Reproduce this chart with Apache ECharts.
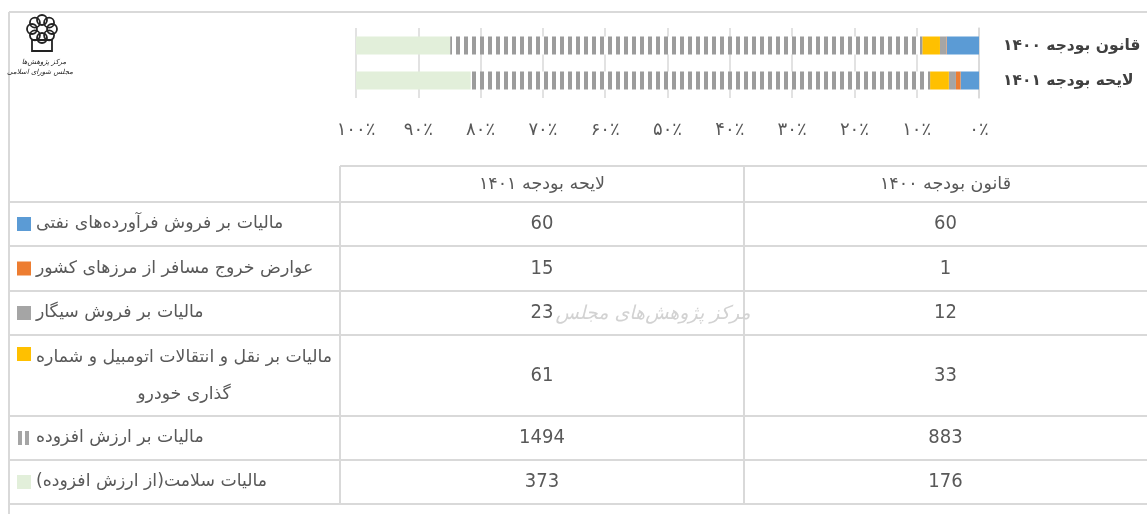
<!DOCTYPE html>
<html>
<head>
<meta charset="utf-8">
<title>Tax revenue shares</title>
<script src="https://cdn.jsdelivr.net/npm/echarts@6/dist/echarts.min.js"></script>
<style>
  html, body { margin: 0; padding: 0; background: #fff; }
  #chart { width: 1147px; height: 514px; }
</style>
</head>
<body>
<div id="chart"></div>
<script>
// categories (top to bottom)
const categories = ["قانون بودجه ۱۴۰۰", "لایحه بودجه ۱۴۰۱"];
// series names, in stack order (from 0% outward)
const seriesNames = [
  "مالیات بر فروش فرآورده‌های نفتی",
  "عوارض خروج مسافر از مرزهای کشور",
  "مالیات بر فروش سیگار",
  "مالیات بر نقل و انتقالات اتومبیل و شماره گذاری خودرو",
  "مالیات بر ارزش افزوده",
  "مالیات سلامت(از ارزش افزوده)",
];
const law1400 = [60, 1, 12, 33, 883, 176];
const bill1401 = [60, 15, 23, 61, 1494, 373];
const tableHeaders = ["لایحه بودجه ۱۴۰۱", "قانون بودجه ۱۴۰۰"];
const xTicks = ["۰٪", "۱۰٪", "۲۰٪", "۳۰٪", "۴۰٪", "۵۰٪", "۶۰٪", "۷۰٪", "۸۰٪", "۹۰٪", "۱۰۰٪"];

const colors = ["#5b9bd5", "#ed7d31", "#a5a5a5", "#ffc000", "stripes", "#e2efda"];
const FA = "'DejaVu Sans', sans-serif";
const NUM = "'Liberation Sans Narrow', 'DejaVu Sans Condensed', 'Open Sans', sans-serif";
const LINE = "#d9d9d9";
const TXT = "#595959";

// vertical stripe pattern used for the VAT series
function stripePattern() {
  const c = document.createElement("canvas");
  c.width = 8;
  c.height = 20;
  const ctx = c.getContext("2d");
  ctx.fillStyle = "#fff";
  ctx.fillRect(0, 0, 8, 20);
  ctx.fillStyle = "#9c9c9c";
  ctx.fillRect(0, 0, 4, 20);
  return { image: c, repeat: "repeat" };
}

const sum = (a) => a.reduce((s, v) => s + v, 0);
const tot1400 = sum(law1400);
const tot1401 = sum(bill1401);

const chart = echarts.init(document.getElementById("chart"));

// table layout
const rowEdges = [166, 202, 246, 291, 335, 416, 460, 504];
const colEdges = [9, 340, 744, 1147];

function tableGraphics() {
  const g = [];
  const line = (x1, y1, x2, y2) =>
    g.push({
      type: "line",
      silent: true,
      shape: { x1, y1, x2, y2 },
      style: { stroke: LINE, lineWidth: 2 },
    });
  // outer frame
  line(9, 12, 1147, 12);
  line(9, 12, 9, 514);
  // table grid
  line(colEdges[1], rowEdges[0], 1147, rowEdges[0]);
  for (let i = 1; i < rowEdges.length; i++) line(9, rowEdges[i], 1147, rowEdges[i]);
  line(colEdges[1], rowEdges[0], colEdges[1], rowEdges[rowEdges.length - 1]);
  line(colEdges[2], rowEdges[0], colEdges[2], rowEdges[rowEdges.length - 1]);

  const cx1 = (colEdges[1] + colEdges[2]) / 2;
  const cx2 = (colEdges[2] + colEdges[3]) / 2;
  const text = (x, y, t, size, font, align) =>
    g.push({
      type: "text",
      silent: true,
      x, y,
      style: {
        text: t,
        fill: TXT,
        font: size + "px " + font,
        align: align || "center",
        verticalAlign: "middle",
      },
    });

  // header
  const hy = (rowEdges[0] + rowEdges[1]) / 2;
  text(cx1, hy, tableHeaders[0], 17.5, FA);
  text(cx2, hy, tableHeaders[1], 17.5, FA);

  seriesNames.forEach((name, i) => {
    const top = rowEdges[i + 1];
    const bot = rowEdges[i + 2];
    const my = (top + bot) / 2;
    // values
    text(cx1, my, String(bill1401[i]), 20, NUM);
    text(cx2, my, String(law1400[i]), 20, NUM);
    // legend key
    const ky = i === 3 ? top + 12 : my - 7;
    if (colors[i] === "stripes") {
      [18, 25].forEach((x) =>
        g.push({
          type: "rect",
          silent: true,
          shape: { x, y: ky, width: 4, height: 14 },
          style: { fill: "#a5a5a5" },
        })
      );
    } else {
      g.push({
        type: "rect",
        silent: true,
        shape: { x: 17, y: ky, width: 14, height: 14 },
        style: { fill: colors[i] },
      });
    }
    // legend label (row 4 wraps)
    if (i === 3) {
      text(36, top + 23, "مالیات بر نقل و انتقالات اتومبیل و شماره", 17.3, FA, "left");
      text(184, top + 60, "گذاری خودرو", 17.3, FA, "center");
    } else {
      text(36, my, name, 17.3, FA, "left");
    }
  });

  // watermark
  g.push({
    type: "text",
    silent: true,
    x: 653,
    y: 314,
    style: {
      text: "مرکز پژوهش‌های مجلس",
      fill: "#d2d2d2",
      font: "italic 19px " + FA,
      align: "center",
      verticalAlign: "middle",
    },
  });

  // logo (rough)
  for (let k = 0; k < 8; k++) {
    const a = (k / 8) * Math.PI * 2;
    g.push({
      type: "circle",
      silent: true,
      shape: { cx: 42 + 10 * Math.cos(a), cy: 29 + 9 * Math.sin(a), r: 5 },
      style: { fill: "none", stroke: "#222", lineWidth: 1.8 },
    });
  }
  g.push({
    type: "rect",
    silent: true,
    shape: { x: 32, y: 40, width: 20, height: 11 },
    style: { fill: "none", stroke: "#222", lineWidth: 1.8 },
  });
  g.push({
    type: "text", silent: true, x: 44, y: 62,
    style: { text: "مرکز پژوهش‌ها", fill: "#222", font: "italic 7px " + FA, align: "center", verticalAlign: "middle" },
  });
  g.push({
    type: "text", silent: true, x: 40, y: 72,
    style: { text: "مجلس شورای اسلامی", fill: "#222", font: "italic 7px " + FA, align: "center", verticalAlign: "middle" },
  });
  return g;
}

const option = {
  animation: false,
  grid: { left: 356, right: 168, top: 28, height: 70, containLabel: false },
  xAxis: {
    type: "value",
    inverse: true,
    min: 0,
    max: 100,
    interval: 10,
    axisLine: { show: false },
    axisTick: { show: false },
    splitLine: { lineStyle: { color: LINE, width: 1.5 } },
    axisLabel: {
      color: TXT,
      fontSize: 18,
      fontFamily: FA,
      margin: 23,
      formatter: (v) => xTicks[Math.round(v / 10)],
    },
  },
  yAxis: {
    type: "category",
    inverse: true,
    position: "right",
    data: categories,
    axisLine: { show: true, lineStyle: { color: LINE, width: 1.5 } },
    axisTick: { show: false },
    axisLabel: {
      color: "#404040",
      fontSize: 15.5,
      fontWeight: "bold",
      fontFamily: FA,
      margin: 24,
    },
  },
  series: seriesNames.map((name, i) => ({
    name,
    type: "bar",
    stack: "total",
    barWidth: 18,
    silent: true,
    itemStyle: { color: colors[i] === "stripes" ? stripePattern() : colors[i] },
    data: [(law1400[i] / tot1400) * 100, (bill1401[i] / tot1401) * 100],
  })),
  graphic: tableGraphics(),
};

chart.setOption(option);
</script>
</body>
</html>
